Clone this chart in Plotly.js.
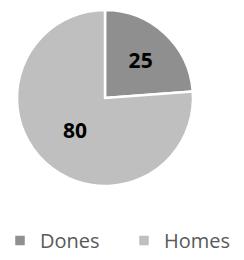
<!DOCTYPE html>
<html>
<head>
<meta charset="utf-8">
<script src="https://cdn.plot.ly/plotly-3.0.1.min.js"></script>
<style>html,body{margin:0;padding:0;background:#fff;}#chart{width:244px;height:260px;}</style>
</head>
<body>
<div id="chart"></div>
<script>
var labels = ["Dones", "Homes"];
var values = [25, 80];
var colors = ["#8f8f8f", "#bfbfbf"];

var W = 244, H = 260;
var cx = 105, cy = 98, r = 88;

var data = [{
  type: "pie",
  labels: labels,
  values: values,
  sort: false,
  direction: "clockwise",
  rotation: 0,
  marker: {colors: colors, line: {color: "#ffffff", width: 2.5}},
  textinfo: "value",
  textposition: "inside",
  insidetextorientation: "horizontal",
  insidetextfont: {family: "Open Sans, Liberation Sans, sans-serif", size: 21, color: "#000000", weight: "bold"},
  hoverinfo: "none",
  domain: {x: [(cx - r) / W, (cx + r) / W], y: [1 - (cy + r) / H, 1 - (cy - r) / H]}
}];

var layout = {
  width: W, height: H,
  margin: {l: 0, r: 0, t: 0, b: 0},
  paper_bgcolor: "#ffffff",
  showlegend: true,
  legend: {
    orientation: "h",
    x: 8 / W, xanchor: "left",
    y: 0, yanchor: "bottom",
    entrywidth: 79, entrywidthmode: "pixels",
    font: {family: "Open Sans, Liberation Sans, sans-serif", size: 20, color: "#595959"},
    traceorder: "normal"
  }
};

Plotly.newPlot("chart", data, layout, {displayModeBar: false, staticPlot: true});
</script>
</body>
</html>
